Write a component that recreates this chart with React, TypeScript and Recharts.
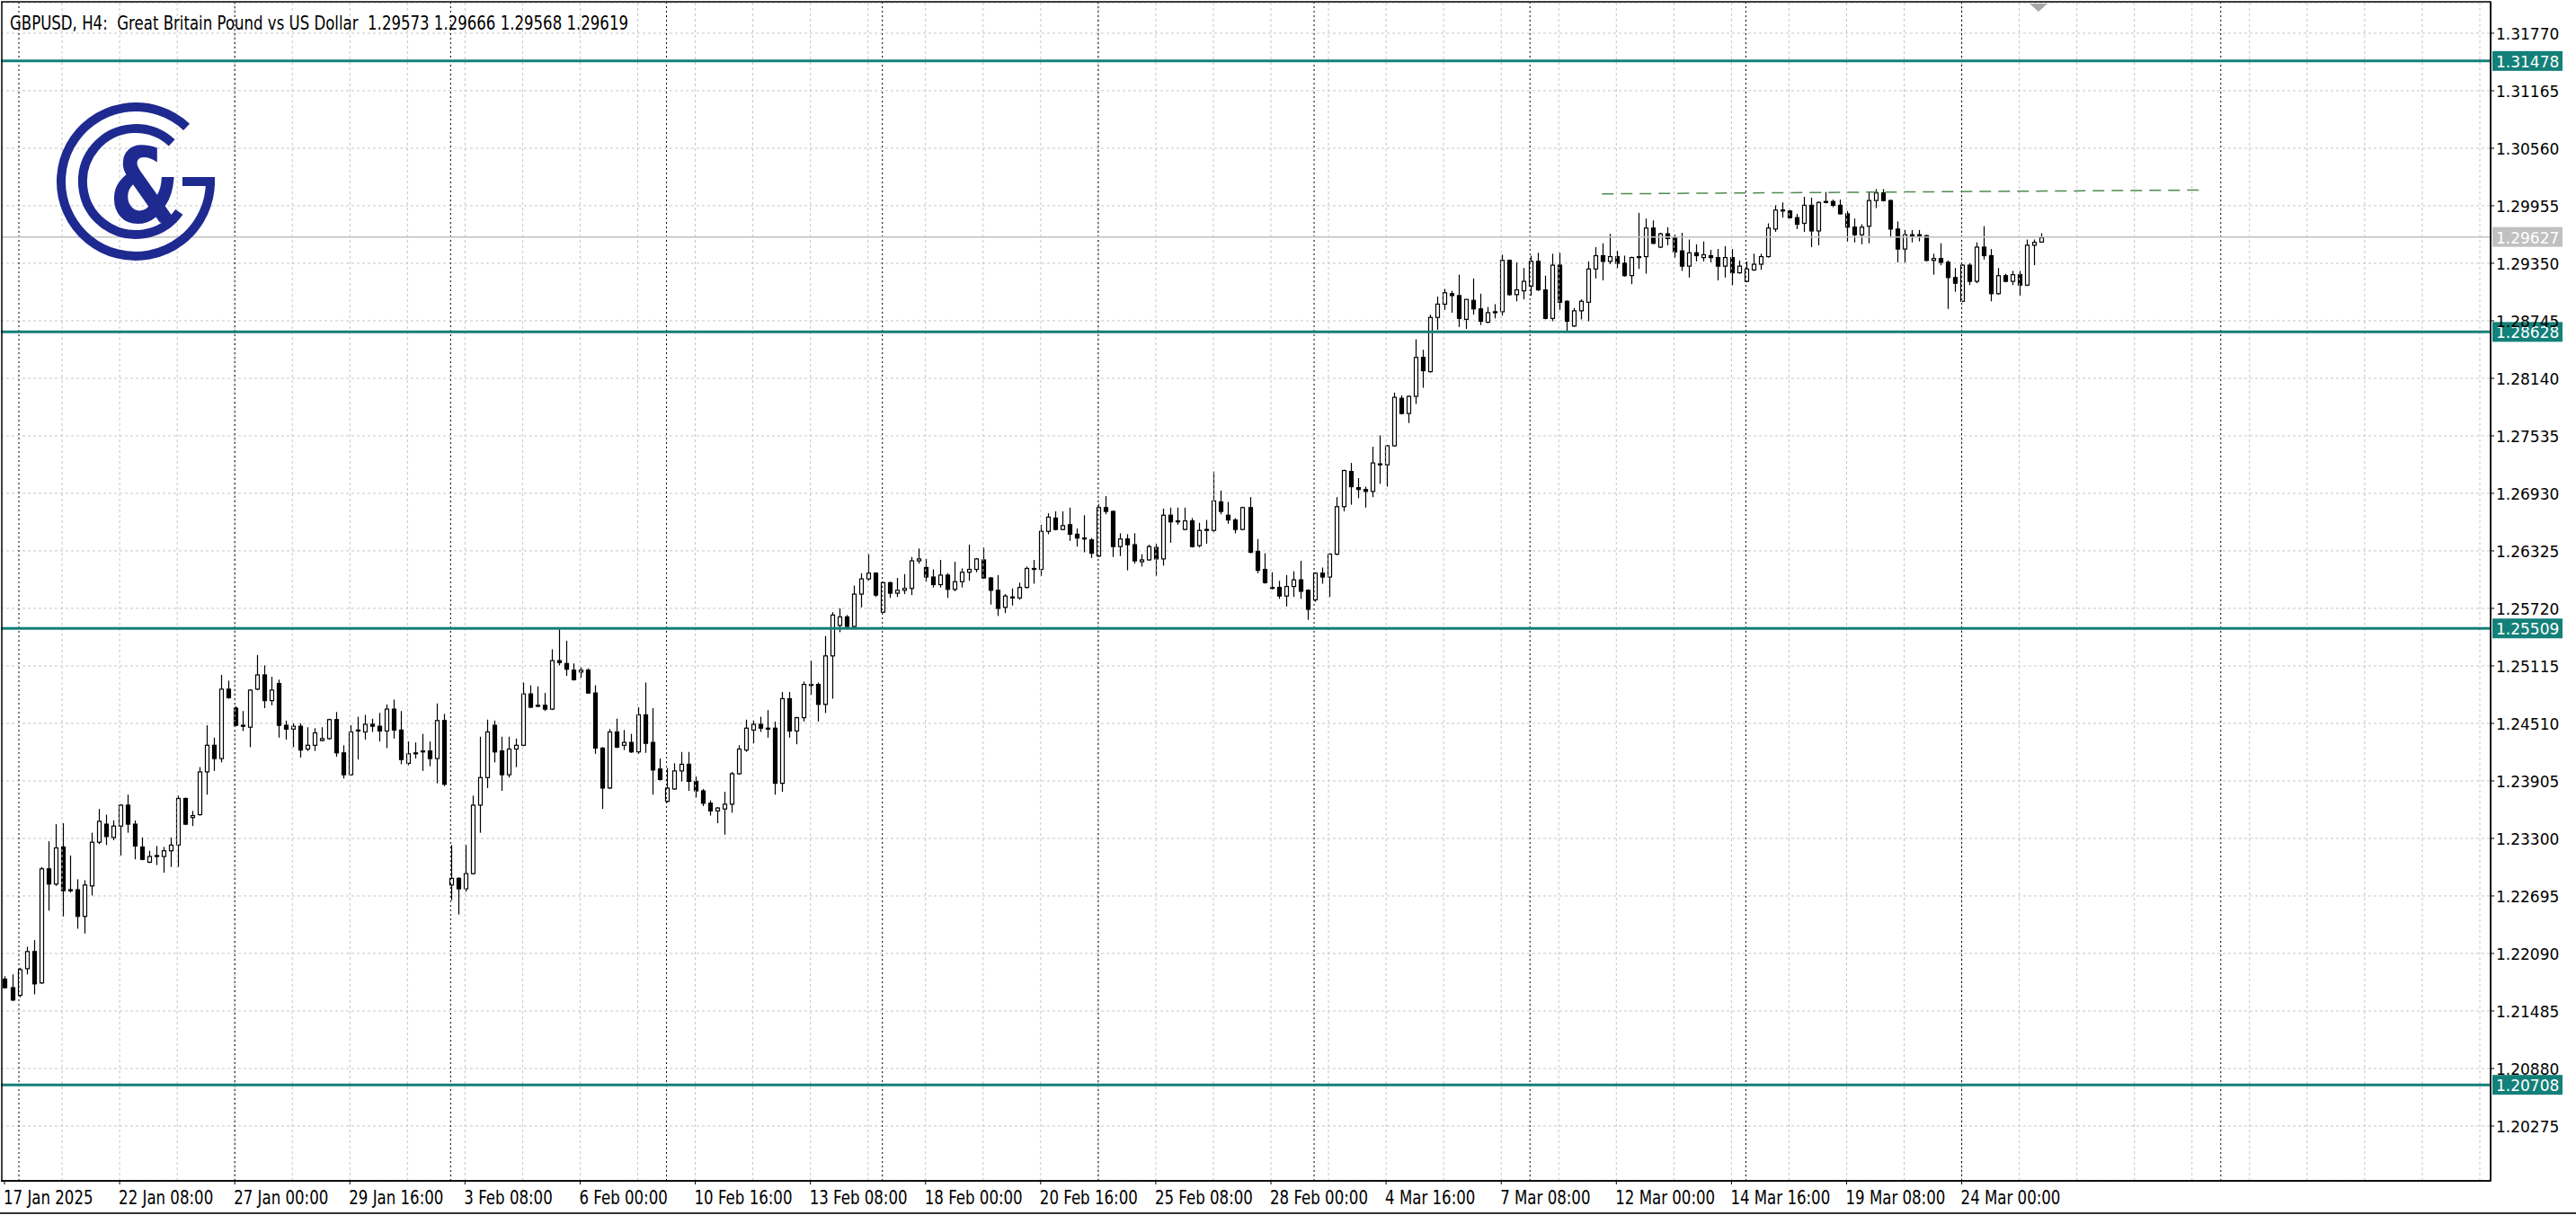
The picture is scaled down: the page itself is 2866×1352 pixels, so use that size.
import React from "react";
import {
  ComposedChart,
  Bar,
  XAxis,
  YAxis,
  CartesianGrid,
  ReferenceLine,
} from "recharts";

// GBPUSD H4, one value per bar, 17 Jan 2025 16:00 .. 25 Mar 2025
const opens = [
  1.2182, 1.2173, 1.2165, 1.2193, 1.2211, 1.2178, 1.2298, 1.2282, 1.2321, 1.2276,
  1.2276, 1.2248, 1.2280, 1.2326, 1.2345, 1.2331, 1.2343, 1.2365, 1.2345, 1.2321,
  1.2305, 1.2312, 1.2311, 1.2317, 1.2323, 1.2372, 1.2352, 1.2355, 1.2400, 1.2428,
  1.2414, 1.2487, 1.2467, 1.2449, 1.2447, 1.2487, 1.2502, 1.2475, 1.2493, 1.2449,
  1.2445, 1.2448, 1.2424, 1.2428, 1.2433, 1.2435, 1.2455, 1.2420, 1.2397, 1.2443,
  1.2442, 1.2450, 1.2448, 1.2443, 1.2466, 1.2444, 1.2409, 1.2419, 1.2422, 1.2422,
  1.2414, 1.2454, 1.2281, 1.2288, 1.2277, 1.2293, 1.2365, 1.2394, 1.2449, 1.2422,
  1.2397, 1.2424, 1.2428, 1.2482, 1.2470, 1.2470, 1.2466, 1.2517, 1.2514, 1.2507,
  1.2505, 1.2507, 1.2483, 1.2425, 1.2383, 1.2442, 1.2428, 1.2431, 1.2421, 1.2460,
  1.2431, 1.2403, 1.2369, 1.2382, 1.2401, 1.2408, 1.2390, 1.2380, 1.2367, 1.2359,
  1.2361, 1.2366, 1.2398, 1.2423, 1.2444, 1.2450, 1.2446, 1.2446, 1.2388, 1.2477,
  1.2443, 1.2457, 1.2492, 1.2492, 1.2471, 1.2522, 1.2554, 1.2563, 1.2553, 1.2587,
  1.2603, 1.2609, 1.2568, 1.2599, 1.2588, 1.2591, 1.2593, 1.2622, 1.2615, 1.2605,
  1.2597, 1.2607, 1.2592, 1.2600, 1.2610, 1.2613, 1.2623, 1.2604, 1.2591, 1.2573,
  1.2584, 1.2583, 1.2594, 1.2614, 1.2613, 1.2653, 1.2667, 1.2655, 1.2660, 1.2650,
  1.2646, 1.2644, 1.2627, 1.2678, 1.2674, 1.2637, 1.2645, 1.2639, 1.2621, 1.2623,
  1.2636, 1.2624, 1.2670, 1.2664, 1.2655, 1.2664, 1.2638, 1.2654, 1.2654, 1.2684,
  1.2670, 1.2665, 1.2655, 1.2678, 1.2632, 1.2613, 1.2594, 1.2594, 1.2585, 1.2595,
  1.2602, 1.2591, 1.2581, 1.2609, 1.2605, 1.2629, 1.2679, 1.2716, 1.2699, 1.2697,
  1.2695, 1.2724, 1.2723, 1.2743, 1.2793, 1.2777, 1.2795, 1.2836, 1.2821, 1.2878,
  1.2892, 1.2903, 1.2901, 1.2876, 1.2896, 1.2887, 1.2873, 1.2884, 1.2884, 1.2938,
  1.2902, 1.2906, 1.2911, 1.2937, 1.2907, 1.2877, 1.2933, 1.2895, 1.2869, 1.2885,
  1.2894, 1.2929, 1.2943, 1.2937, 1.2942, 1.2935, 1.2922, 1.2942, 1.2942, 1.2972,
  1.2952, 1.2966, 1.2962, 1.2948, 1.2932, 1.2946, 1.2941, 1.2943, 1.2941, 1.2932,
  1.2941, 1.2925, 1.2916, 1.2928, 1.2934, 1.2942, 1.2971, 1.2991, 1.2990, 1.2983,
  1.2977, 1.2996, 1.2969, 1.3000, 1.3000, 1.2996, 1.2987, 1.2973, 1.2965, 1.2974,
  1.3001, 1.3009, 1.3001, 1.2971, 1.2950, 1.2965, 1.2965, 1.2964, 1.2938, 1.2940,
  1.2936, 1.2920, 1.2895, 1.2933, 1.2916, 1.2952, 1.2943, 1.2903, 1.2922, 1.2916,
  1.2923, 1.2912, 1.2954, 1.29573,
];

const highs = [
  1.2185, 1.2187, 1.2194, 1.2216, 1.2223, 1.2300, 1.2327, 1.2345, 1.2346, 1.2312,
  1.2287, 1.2286, 1.2336, 1.2361, 1.2355, 1.2349, 1.2366, 1.2376, 1.2349, 1.2331,
  1.2317, 1.2322, 1.2321, 1.2331, 1.2375, 1.2373, 1.2359, 1.2405, 1.2449, 1.2436,
  1.2502, 1.2496, 1.2469, 1.2464, 1.2487, 1.2523, 1.2512, 1.2500, 1.2497, 1.2454,
  1.2451, 1.2451, 1.2447, 1.2446, 1.2447, 1.2456, 1.2463, 1.2428, 1.2449, 1.2458,
  1.2460, 1.2456, 1.2462, 1.2471, 1.2476, 1.2464, 1.2432, 1.2431, 1.2440, 1.2432,
  1.2472, 1.2461, 1.2323, 1.2289, 1.2323, 1.2375, 1.2437, 1.2455, 1.2454, 1.2437,
  1.2437, 1.2435, 1.2494, 1.2491, 1.2490, 1.2483, 1.2529, 1.2550, 1.2538, 1.2514,
  1.2510, 1.2509, 1.2491, 1.2426, 1.2445, 1.2456, 1.2444, 1.2440, 1.2468, 1.2494,
  1.2467, 1.2414, 1.2404, 1.2409, 1.2421, 1.2421, 1.2395, 1.2382, 1.2370, 1.2363,
  1.2379, 1.2400, 1.2428, 1.2455, 1.2454, 1.2458, 1.2465, 1.2453, 1.2484, 1.2484,
  1.2458, 1.2495, 1.2517, 1.2494, 1.2543, 1.2568, 1.2572, 1.2565, 1.2596, 1.2609,
  1.2629, 1.2610, 1.2600, 1.2600, 1.2604, 1.2608, 1.2626, 1.2635, 1.2624, 1.2613,
  1.2623, 1.2609, 1.2621, 1.2614, 1.2639, 1.2625, 1.2636, 1.2605, 1.2607, 1.2587,
  1.2593, 1.2599, 1.2616, 1.2623, 1.2660, 1.2672, 1.2674, 1.2674, 1.2678, 1.2656,
  1.2670, 1.2646, 1.2682, 1.2690, 1.2675, 1.2651, 1.2650, 1.2651, 1.2629, 1.2639,
  1.2640, 1.2677, 1.2678, 1.2678, 1.2678, 1.2667, 1.2662, 1.2665, 1.2716, 1.2696,
  1.2684, 1.2667, 1.2679, 1.2689, 1.2645, 1.2630, 1.2610, 1.2601, 1.2607, 1.2611,
  1.2622, 1.2592, 1.2610, 1.2615, 1.2630, 1.2689, 1.2718, 1.2725, 1.2709, 1.2700,
  1.2742, 1.2754, 1.2744, 1.2799, 1.2796, 1.2796, 1.2855, 1.2844, 1.2881, 1.2900,
  1.2908, 1.2906, 1.2923, 1.2897, 1.2919, 1.2903, 1.2889, 1.2892, 1.2944, 1.2939,
  1.2936, 1.2930, 1.2943, 1.2946, 1.2922, 1.2945, 1.2946, 1.2896, 1.2888, 1.2897,
  1.2937, 1.2952, 1.2956, 1.2966, 1.2948, 1.2943, 1.2942, 1.2988, 1.2982, 1.2980,
  1.2967, 1.2973, 1.2965, 1.2967, 1.2960, 1.2955, 1.2958, 1.2949, 1.2950, 1.2953,
  1.2950, 1.2938, 1.2937, 1.2945, 1.2945, 1.2977, 1.2996, 1.2999, 1.2991, 1.2987,
  1.3005, 1.3004, 1.3000, 1.3010, 1.3002, 1.3002, 1.2990, 1.2982, 1.2976, 1.3010,
  1.3013, 1.3013, 1.3002, 1.2979, 1.2970, 1.2970, 1.2970, 1.2965, 1.2945, 1.2956,
  1.2938, 1.2930, 1.2934, 1.2935, 1.2957, 1.2974, 1.2950, 1.2930, 1.2924, 1.2927,
  1.2927, 1.2960, 1.2960, 1.29666,
];

const lows = [
  1.2172, 1.2159, 1.2163, 1.2187, 1.2166, 1.2177, 1.2254, 1.2280, 1.2248, 1.2273,
  1.2235, 1.2230, 1.2270, 1.2324, 1.2323, 1.2328, 1.2312, 1.2336, 1.2308, 1.2307,
  1.2304, 1.2302, 1.2294, 1.2300, 1.2300, 1.2344, 1.2343, 1.2354, 1.2376, 1.2401,
  1.2410, 1.2477, 1.2448, 1.2443, 1.2426, 1.2486, 1.2467, 1.2470, 1.2436, 1.2434,
  1.2426, 1.2415, 1.2422, 1.2422, 1.2432, 1.2434, 1.2416, 1.2393, 1.2396, 1.2413,
  1.2434, 1.2442, 1.2432, 1.2425, 1.2435, 1.2408, 1.2407, 1.2414, 1.2401, 1.2406,
  1.2388, 1.2385, 1.2265, 1.2250, 1.2274, 1.2292, 1.2336, 1.2383, 1.2410, 1.2380,
  1.2394, 1.2405, 1.2427, 1.2467, 1.2468, 1.2464, 1.2465, 1.2512, 1.2501, 1.2496,
  1.2499, 1.2482, 1.2419, 1.2361, 1.2382, 1.2425, 1.2423, 1.2420, 1.2419, 1.2420,
  1.2376, 1.2391, 1.2368, 1.2381, 1.2390, 1.2380, 1.2373, 1.2364, 1.2354, 1.2346,
  1.2334, 1.2357, 1.2397, 1.2421, 1.2430, 1.2442, 1.2436, 1.2376, 1.2379, 1.2436,
  1.2429, 1.2453, 1.2481, 1.2453, 1.2462, 1.2477, 1.2547, 1.2552, 1.2552, 1.2573,
  1.2601, 1.2584, 1.2567, 1.2583, 1.2584, 1.2587, 1.2586, 1.2619, 1.2600, 1.2594,
  1.2594, 1.2583, 1.2590, 1.2594, 1.2601, 1.2610, 1.2603, 1.2576, 1.2564, 1.2567,
  1.2575, 1.2581, 1.2593, 1.2598, 1.2606, 1.2650, 1.2654, 1.2654, 1.2643, 1.2637,
  1.2631, 1.2625, 1.2626, 1.2671, 1.2626, 1.2627, 1.2612, 1.2619, 1.2616, 1.2622,
  1.2606, 1.2617, 1.2641, 1.2660, 1.2654, 1.2636, 1.2636, 1.2640, 1.2652, 1.2671,
  1.2661, 1.2651, 1.2654, 1.2630, 1.2609, 1.2598, 1.2592, 1.2582, 1.2574, 1.2584,
  1.2582, 1.2560, 1.2579, 1.2598, 1.2584, 1.2628, 1.2674, 1.2681, 1.2688, 1.2678,
  1.2689, 1.2703, 1.2700, 1.2742, 1.2776, 1.2767, 1.2787, 1.2804, 1.2820, 1.2865,
  1.2886, 1.2883, 1.2868, 1.2866, 1.2881, 1.2870, 1.2872, 1.2877, 1.2880, 1.2901,
  1.2895, 1.2897, 1.2901, 1.2906, 1.2876, 1.2874, 1.2886, 1.2863, 1.2868, 1.2876,
  1.2874, 1.2919, 1.2917, 1.2934, 1.2930, 1.2921, 1.2913, 1.2929, 1.2924, 1.2955,
  1.2951, 1.2954, 1.2941, 1.2927, 1.2920, 1.2937, 1.2937, 1.2936, 1.2917, 1.2920,
  1.2912, 1.2924, 1.2915, 1.2927, 1.2928, 1.2941, 1.2968, 1.2983, 1.2982, 1.2971,
  1.2968, 1.2952, 1.2954, 1.2998, 1.2994, 1.2986, 1.2958, 1.2957, 1.2955, 1.2956,
  1.2993, 1.3000, 1.2962, 1.2936, 1.2936, 1.2957, 1.2958, 1.2937, 1.2923, 1.2933,
  1.2887, 1.2905, 1.2894, 1.2912, 1.2914, 1.2939, 1.2895, 1.2902, 1.2915, 1.2912,
  1.2901, 1.2911, 1.2933, 1.29568,
];

const closes = [
  1.2173, 1.2160, 1.2192, 1.2211, 1.2177, 1.2298, 1.2282, 1.2320, 1.2275, 1.2275,
  1.2248, 1.2281, 1.2326, 1.2348, 1.2332, 1.2343, 1.2365, 1.2345, 1.2322, 1.2308,
  1.2311, 1.2311, 1.2317, 1.2323, 1.2372, 1.2345, 1.2354, 1.2400, 1.2428, 1.2414,
  1.2487, 1.2478, 1.2449, 1.2448, 1.2486, 1.2502, 1.2475, 1.2486, 1.2449, 1.2445,
  1.2448, 1.2423, 1.2428, 1.2441, 1.2435, 1.2455, 1.2420, 1.2397, 1.2442, 1.2444,
  1.2450, 1.2448, 1.2443, 1.2466, 1.2444, 1.2413, 1.2419, 1.2420, 1.2421, 1.2414,
  1.2454, 1.2387, 1.2288, 1.2277, 1.2293, 1.2365, 1.2394, 1.2442, 1.2421, 1.2397,
  1.2424, 1.2428, 1.2482, 1.2468, 1.2469, 1.2466, 1.2517, 1.2515, 1.2508, 1.2497,
  1.2507, 1.2483, 1.2425, 1.2383, 1.2442, 1.2426, 1.2431, 1.2421, 1.2460, 1.2430,
  1.2402, 1.2392, 1.2383, 1.2401, 1.2408, 1.2390, 1.2380, 1.2367, 1.2359, 1.2362,
  1.2366, 1.2398, 1.2424, 1.2446, 1.2450, 1.2446, 1.2445, 1.2388, 1.2477, 1.2443,
  1.2457, 1.2492, 1.2491, 1.2471, 1.2522, 1.2565, 1.2563, 1.2553, 1.2587, 1.2603,
  1.2609, 1.2586, 1.2599, 1.2588, 1.2591, 1.2593, 1.2622, 1.2624, 1.2605, 1.2597,
  1.2607, 1.2592, 1.2600, 1.2610, 1.2613, 1.2624, 1.2604, 1.2591, 1.2572, 1.2585,
  1.2583, 1.2594, 1.2614, 1.2613, 1.2653, 1.2668, 1.2655, 1.2659, 1.2650, 1.2646,
  1.2645, 1.2630, 1.2678, 1.2674, 1.2637, 1.2645, 1.2639, 1.2622, 1.2623, 1.2637,
  1.2624, 1.2670, 1.2663, 1.2663, 1.2664, 1.2637, 1.2654, 1.2655, 1.2685, 1.2674,
  1.2665, 1.2655, 1.2678, 1.2631, 1.2612, 1.2599, 1.2593, 1.2585, 1.2595, 1.2602,
  1.2590, 1.2571, 1.2609, 1.2605, 1.2629, 1.2679, 1.2717, 1.2700, 1.2697, 1.2695,
  1.2725, 1.2723, 1.2743, 1.2794, 1.2777, 1.2795, 1.2836, 1.2822, 1.2878, 1.2892,
  1.2904, 1.2901, 1.2877, 1.2897, 1.2887, 1.2874, 1.2883, 1.2883, 1.2938, 1.2902,
  1.2907, 1.2916, 1.2937, 1.2907, 1.2877, 1.2933, 1.2894, 1.2874, 1.2885, 1.2895,
  1.2929, 1.2943, 1.2937, 1.2942, 1.2935, 1.2922, 1.2941, 1.2941, 1.2972, 1.2956,
  1.2966, 1.2961, 1.2947, 1.2932, 1.2946, 1.2943, 1.2944, 1.2941, 1.2932, 1.2941,
  1.2925, 1.2932, 1.2929, 1.2934, 1.2942, 1.2972, 1.2991, 1.2990, 1.2983, 1.2976,
  1.2996, 1.2969, 1.2999, 1.2999, 1.2996, 1.2987, 1.2973, 1.2965, 1.2973, 1.3001,
  1.3009, 1.3001, 1.2971, 1.2950, 1.2965, 1.2964, 1.2964, 1.2938, 1.2940, 1.2936,
  1.2920, 1.2914, 1.2933, 1.2916, 1.2952, 1.2943, 1.2903, 1.2922, 1.2916, 1.2923,
  1.2912, 1.2954, 1.2957, 1.29619,
];

// empty bars kept on the right (chart shift)
const futureSlots = 62;

const timeLabels = [
  "17 Jan 2025", "22 Jan 08:00", "27 Jan 00:00", "29 Jan 16:00", "3 Feb 08:00",
  "6 Feb 00:00", "10 Feb 16:00", "13 Feb 08:00", "18 Feb 00:00", "20 Feb 16:00",
  "25 Feb 08:00", "28 Feb 00:00", "4 Mar 16:00", "7 Mar 08:00", "12 Mar 00:00",
  "14 Mar 16:00", "19 Mar 08:00", "24 Mar 00:00",
];
const timeLabelBars = [0, 16, 32, 48, 64, 80, 96, 112, 128, 144, 160, 176, 192, 208, 224, 240, 256, 272];

const priceTicks = [
  1.20275, 1.2088, 1.21485, 1.2209, 1.22695, 1.233, 1.23905, 1.2451, 1.25115, 1.2572,
  1.26325, 1.2693, 1.27535, 1.2814, 1.28745, 1.2935, 1.29955, 1.3056, 1.31165, 1.3177,
];

const levels = [1.31478, 1.28628, 1.25509, 1.20708];
const lastPrice = 1.29627;
const weekStartBars = [2, 32, 62, 92, 122, 152, 182, 212, 242, 272, 308];
const trendFrom = { bar: 222, price: 1.3008 };
const trendTo = { bar: 305, price: 1.3012 };

const TEAL = "#138079";
const GRID = "#c6c6c6";
const LABEL_FONT = "'DejaVu Sans', Verdana, sans-serif";

const rows = Array.from({ length: opens.length + futureSlots }, (_, i) =>
  i < opens.length
    ? { i, o: opens[i], h: highs[i], l: lows[i], c: closes[i], range: [lows[i], highs[i]] }
    : { i }
);
const gridBars = Array.from({ length: 43 }, (_, k) => (k + 1) * 8);

const Candle = (props: any) => {
  const { x, y, width, height, payload } = props;
  if (!payload || payload.o == null) return null;
  const top = Math.min(y, y + height);
  const bot = Math.max(y, y + height);
  const k = (bot - top) / (payload.h - payload.l || 1);
  const yo = top + (payload.h - payload.o) * k;
  const yc = top + (payload.h - payload.c) * k;
  const cx = Math.round(x + width / 2) + 0.5;
  const up = payload.c > payload.o;
  const bTop = Math.min(yo, yc);
  const bH = Math.max(Math.abs(yo - yc), 1);
  return (
    <g>
      <line x1={cx} x2={cx} y1={top} y2={bot} stroke="#000" strokeWidth={1.2} />
      <rect x={cx - 2} y={bTop} width={4} height={bH} fill={up ? "#fff" : "#000"} stroke="#000" strokeWidth={1.2} />
    </g>
  );
};

const PriceTag = ({ viewBox, value, bg }: any) => {
  if (!viewBox) return null;
  const x = viewBox.x + viewBox.width + 2;
  const y = viewBox.y;
  return (
    <g>
      <rect x={x} y={y - 11} width={78} height={22} fill={bg} />
      <text x={x + 4} y={y + 1} dominantBaseline="central" fill="#fff" fontFamily={LABEL_FONT} fontSize={17}>
        {value.toFixed(5)}
      </text>
    </g>
  );
};

const PriceTick = (props: any) => {
  const { x, y, payload } = props;
  return (
    <text x={x} y={y + 1} dominantBaseline="central" fill="#000" fontFamily={LABEL_FONT} fontSize={17}>
      {Number(payload.value).toFixed(5)}
    </text>
  );
};

const TimeTick = (props: any) => {
  const { x, payload } = props;
  const k = timeLabelBars.indexOf(payload.value);
  if (k < 0) return null;
  return (
    <text transform={`translate(${x - 1},1340) scale(0.755,1)`} fill="#000" fontFamily={LABEL_FONT} fontSize={22}>
      {timeLabels[k]}
    </text>
  );
};

function Logo() {
  const cx = 151;
  const cy = 202;
  const pt = (r: number, deg: number) => {
    const a = (deg * Math.PI) / 180;
    return `${(cx + r * Math.cos(a)).toFixed(1)} ${(cy + r * Math.sin(a)).toFixed(1)}`;
  };
  const navy = "#1e2a90";
  return (
    <g>
      <path d={`M ${pt(83, -47)} A 83 83 0 1 0 ${pt(83, 0)}`} fill="none" stroke={navy} strokeWidth={10} />
      <rect x={203} y={197} width={36} height={10} fill={navy} />
      <path d={`M ${pt(59, -47)} A 59 59 0 1 0 ${pt(59, 35)}`} fill="none" stroke={navy} strokeWidth={10} />
      <text
        transform="translate(161,247) scale(0.78,1)"
        textAnchor="middle"
        fill={navy}
        fontFamily="'DejaVu Sans', sans-serif"
        fontWeight="bold"
        fontSize={116}
      >
        &amp;
      </text>
    </g>
  );
}

export default function App() {
  return (
    <div style={{ position: "relative", width: 2866, height: 1352, background: "#fff" }}>
      <style>{"html,body{margin:0;padding:0;background:#fff}"}</style>
      <ComposedChart
        width={2866}
        height={1352}
        data={rows}
        margin={{ top: 3, right: 0, bottom: 0, left: 1 }}
      >
        <CartesianGrid vertical={false} stroke={GRID} strokeDasharray="3 3" />
        <XAxis
          dataKey="i"
          type="category"
          height={38}
          ticks={timeLabelBars}
          interval={0}
          tick={<TimeTick />}
          tickSize={4}
          axisLine={{ stroke: "#000", strokeWidth: 1.5 }}
          tickLine={{ stroke: "#000" }}
        />
        <YAxis
          orientation="right"
          width={95}
          type="number"
          domain={[1.19698, 1.32091]}
          allowDataOverflow
          ticks={priceTicks}
          interval={0}
          tick={<PriceTick />}
          tickSize={4}
          tickMargin={2}
          axisLine={{ stroke: "#000", strokeWidth: 1.5 }}
          tickLine={{ stroke: "#000" }}
        />
        {gridBars.map((b) => (
          <ReferenceLine key={`g${b}`} x={b} stroke={GRID} strokeDasharray="3 3" />
        ))}
        {weekStartBars.map((b) => (
          <ReferenceLine key={`w${b}`} x={b} stroke="#000" strokeDasharray="2 3" />
        ))}
        <Bar dataKey="range" barSize={5} shape={<Candle />} isAnimationActive={false} />
        <ReferenceLine
          y={lastPrice}
          stroke="#c0c0c0"
          strokeWidth={1.5}
          label={<PriceTag value={lastPrice} bg="#c0c0c0" />}
        />
        {levels.map((v) => (
          <ReferenceLine key={v} y={v} stroke={TEAL} strokeWidth={3} label={<PriceTag value={v} bg={TEAL} />} />
        ))}
        <ReferenceLine
          segment={[
            { x: trendFrom.bar, y: trendFrom.price },
            { x: trendTo.bar, y: trendTo.price },
          ]}
          stroke="#4f8a4f"
          strokeWidth={1.5}
          strokeDasharray="13 8"
        />
      </ComposedChart>
      <svg
        width={2866}
        height={1352}
        style={{ position: "absolute", left: 0, top: 0, pointerEvents: "none" }}
      >
        <rect x={2} y={2} width={2769} height={1312} fill="none" stroke="#000" strokeWidth={1.5} />
        <path d="M 2258 4 L 2278 4 L 2268 13 Z" fill="#a8a8a8" />
        <line x1={0} x2={2866} y1={1350} y2={1350} stroke="#333" strokeWidth={2} />
        <text
          x={11}
          y={33}
          textLength={688}
          lengthAdjust="spacingAndGlyphs"
          fill="#000"
          fontFamily={LABEL_FONT}
          fontSize={22}
          style={{ whiteSpace: "pre" }}
        >
          {"GBPUSD, H4:  Great Britain Pound vs US Dollar  1.29573 1.29666 1.29568 1.29619"}
        </text>
        <Logo />
      </svg>
    </div>
  );
}
